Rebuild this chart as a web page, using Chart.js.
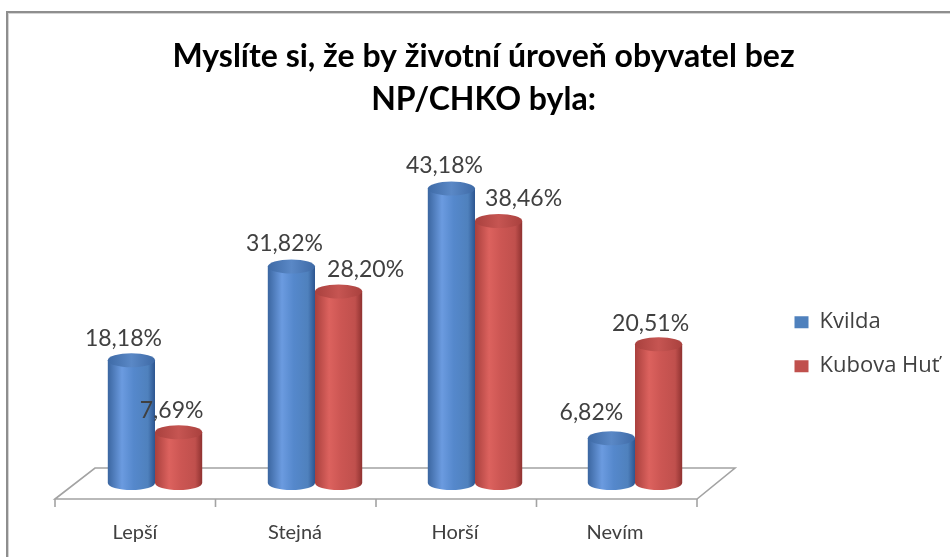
<!DOCTYPE html>
<html><head><meta charset="utf-8">
<script src="https://cdn.jsdelivr.net/npm/chart.js@4"></script>
<style>
html,body{margin:0;padding:0;background:#fff;overflow:hidden;width:950px;height:557px}
#frame{position:absolute;left:6px;top:11px;width:1000px;height:600px;border-left:2px solid #8e8e8e;border-top:2px solid #8e8e8e;box-shadow:inset 1px 1px 0 #d4d4d4}
#wrap{position:absolute;left:0;top:0;width:950px;height:557px}
</style></head><body>
<div id="frame"></div>
<div id="wrap"><canvas id="c" width="950" height="557"></canvas></div>
<script>
// ---- data ----
const categories = ['Lepší', 'Stejná', 'Horší', 'Nevím'];
const seriesNames = ['Kvilda', 'Kubova Huť'];
const kvilda = [18.18, 31.82, 43.18, 6.82];
const kubovaHut = [7.69, 28.20, 38.46, 20.51];
const titleLines = ['Myslíte si, že by životní úroveň obyvatel bez', 'NP/CHKO byla:'];

// ---- styling ----
const FONT = 'Lato, "Open Sans", sans-serif';
const LEGEND_FONT = '"Open Sans", "Noto Sans", sans-serif';
const TEXT = '#404040';
const palettes = [
  {base:'#4f81bd', edgeL:'#3b66a0', hi:'#6b9be0', mid:'#5588cc', edgeR:'#2c5590', top:'#3e6aa6', topHi:'#5a88c6'},
  {base:'#c0504d', edgeL:'#a9403d', hi:'#dc625e', mid:'#cc5653', edgeR:'#8f3230', top:'#a9413e', topHi:'#c65552'}
];
// data-label nudges (px) as placed in the original chart
const labelNudgeX = [[-8, -7, -7, -20], [-7, 27, 25, -8]];
const labelNudgeY = [[-22, -23, -23, -26], [-22, -22, -22, -21]];

const floorPlugin = {
  id: 'floor',
  afterLayout(chart) {
    if (chart.legend) { chart.legend.right += 60; chart.legend.width += 60; }
  },
  beforeDatasetsDraw(chart) {
    const {ctx, chartArea: {left: L, right: R, bottom: B}} = chart;
    const backY = B - 17, frontY = B + 14;
    const fl = L - 20, fr = R - 18, bl = L + 20, br = R + 20;
    ctx.save();
    ctx.strokeStyle = '#a3a3a3';
    ctx.lineWidth = 1.6;
    ctx.beginPath();
    ctx.moveTo(fl, frontY); ctx.lineTo(bl, backY); ctx.lineTo(br, backY); ctx.lineTo(fr, frontY); ctx.closePath();
    ctx.stroke();
    const n = categories.length;
    ctx.beginPath();
    for (let i = 0; i <= n; i++) {
      const x = fl + i * (fr - fl) / n;
      ctx.moveTo(x, frontY); ctx.lineTo(x, frontY + 8);
    }
    ctx.stroke();
    ctx.restore();
  }
};

const cylinderPlugin = {
  id: 'cylinder',
  beforeDatasetsDraw(chart) {
    const ctx = chart.ctx;
    chart.data.datasets.forEach((ds, di) => {
      const meta = chart.getDatasetMeta(di);
      const p = palettes[di];
      meta.data.forEach(bar => {
        const {x, y, base, width} = bar.getProps(['x', 'y', 'base', 'width'], true);
        const rx = width / 2, ry = 7, l = x - rx, r = x + rx, b = base - 2;
        ctx.save();
        const g = ctx.createLinearGradient(l, 0, r, 0);
        g.addColorStop(0, p.edgeL); g.addColorStop(0.3, p.hi); g.addColorStop(0.55, p.mid); g.addColorStop(0.85, p.base); g.addColorStop(1, p.edgeR);
        ctx.fillStyle = g;
        ctx.beginPath();
        ctx.moveTo(l, y);
        ctx.lineTo(l, b);
        ctx.ellipse(x, b, rx, ry, 0, Math.PI, 0, true);
        ctx.lineTo(r, y);
        ctx.closePath();
        ctx.fill();
        const tg = ctx.createLinearGradient(l, 0, r, 0);
        tg.addColorStop(0, p.top); tg.addColorStop(0.5, p.topHi); tg.addColorStop(1, p.top);
        ctx.fillStyle = tg;
        ctx.beginPath();
        ctx.ellipse(x, y, rx, ry, 0, 0, Math.PI * 2);
        ctx.fill();
        ctx.restore();
      });
    });
    return false;
  },
  afterDraw(chart) {
    const ctx = chart.ctx;
    ctx.save();
    ctx.font = '23px ' + FONT;
    ctx.fillStyle = TEXT;
    ctx.textAlign = 'center';
    ctx.textBaseline = 'middle';
    chart.data.datasets.forEach((ds, di) => {
      chart.getDatasetMeta(di).data.forEach((bar, i) => {
        const t = ds.data[i].toFixed(2).replace('.', ',') + '%';
        ctx.fillText(t, bar.x + labelNudgeX[di][i], bar.y + labelNudgeY[di][i]);
      });
    });
    ctx.restore();
  }
};

new Chart(document.getElementById('c'), {
  type: 'bar',
  data: {
    labels: categories,
    datasets: [
      {label: seriesNames[0], data: kvilda, backgroundColor: palettes[0].base},
      {label: seriesNames[1], data: kubovaHut, backgroundColor: palettes[1].base}
    ]
  },
  options: {
    responsive: false,
    animation: false,
    devicePixelRatio: 1,
    categoryPercentage: 0.59,
    barPercentage: 1,
    layout: {padding: {left: 50, right: 33, top: 0, bottom: 13}},
    plugins: {
      tooltip: {enabled: false},
      title: {
        display: true, text: titleLines, color: '#000',
        font: {family: FONT, size: 32, weight: 'bold', lineHeight: 1.34},
        padding: {top: 35, bottom: 21}
      },
      legend: {
        position: 'right',
        title: {display: true, text: ' ', font: {size: 12, lineHeight: 1.2}, padding: {top: 130, bottom: 0}},
        labels: {boxWidth: 14, boxHeight: 12, padding: 22, color: TEXT, font: {family: LEGEND_FONT, size: 22}}
      }
    },
    scales: {
      x: {
        grid: {display: false, drawTicks: false}, border: {display: false},
        ticks: {labelOffset: -20, padding: 36, color: TEXT, font: {family: FONT, size: 20}},
        afterFit(s) { s.height = 59; }
      },
      y: {
        min: 0, max: 50,
        grid: {display: false, drawTicks: false}, border: {display: false},
        ticks: {display: false},
        afterFit(s) { s.width = 25; }
      },
      y2: {
        type: 'linear', position: 'right', min: 0, max: 1,
        grid: {display: false, drawTicks: false}, border: {display: false},
        ticks: {display: false},
        afterFit(s) { s.width = 57.5; }
      }
    }
  },
  plugins: [floorPlugin, cylinderPlugin]
});
</script>
</body></html>
